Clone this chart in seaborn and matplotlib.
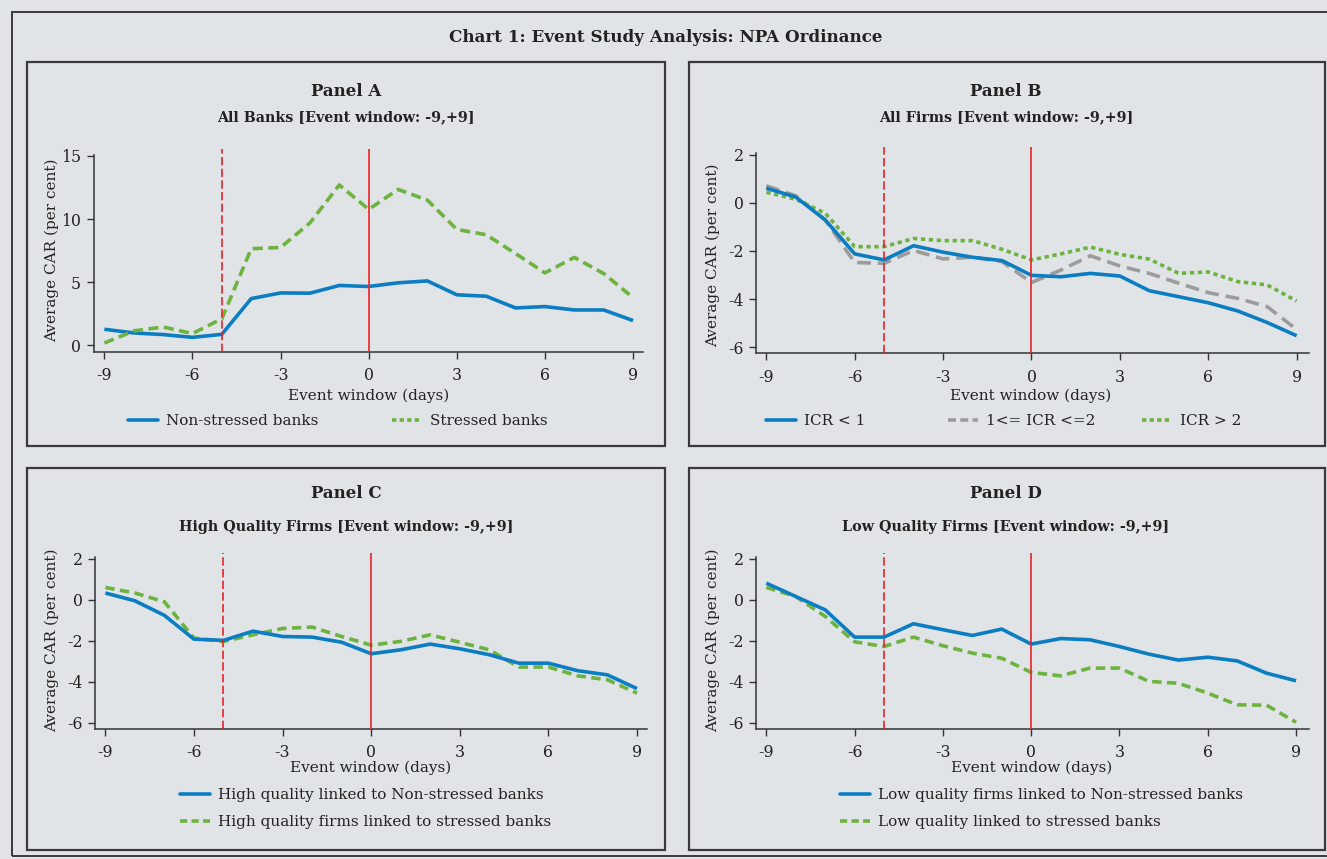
import numpy as np
import pandas as pd
import seaborn as sns
import matplotlib.pyplot as plt
from matplotlib.patches import Rectangle
from matplotlib.lines import Line2D

# ---------------- data ----------------
days = list(range(-9, 10))

a_nonstressed = [1.27, 0.98, 0.85, 0.63, 0.87, 3.70, 4.15, 4.13, 4.74, 4.66,
                 4.95, 5.10, 4.00, 3.89, 2.96, 3.07, 2.80, 2.80, 1.96]
a_stressed = [0.18, 1.14, 1.45, 0.93, 2.10, 7.65, 7.75, 9.70, 12.70, 10.77,
              12.35, 11.50, 9.18, 8.76, 7.27, 5.74, 6.96, 5.69, 3.78]

b_icr_lt1 = [0.61, 0.24, -0.71, -2.12, -2.37, -1.78, -2.05, -2.26, -2.40, -3.01,
             -3.07, -2.93, -3.04, -3.65, -3.90, -4.15, -4.49, -4.97, -5.52]
b_icr_1_2 = [0.71, 0.29, -0.71, -2.48, -2.51, -1.98, -2.33, -2.26, -2.44, -3.31,
             -2.79, -2.20, -2.62, -2.93, -3.34, -3.73, -3.97, -4.31, -5.26]
b_icr_gt2 = [0.44, 0.15, -0.43, -1.82, -1.82, -1.48, -1.57, -1.57, -1.93, -2.37,
             -2.12, -1.84, -2.14, -2.34, -2.93, -2.87, -3.27, -3.41, -4.08]

c_hq_nonstressed = [0.33, -0.05, -0.76, -1.92, -1.98, -1.53, -1.79, -1.82, -2.07, -2.63,
                    -2.44, -2.16, -2.39, -2.68, -3.09, -3.09, -3.46, -3.66, -4.33]
c_hq_stressed = [0.60, 0.33, -0.10, -1.87, -2.03, -1.71, -1.40, -1.33, -1.79, -2.21,
                 -2.03, -1.71, -2.07, -2.44, -3.28, -3.28, -3.71, -3.90, -4.55]

d_lq_nonstressed = [0.81, 0.16, -0.49, -1.82, -1.82, -1.17, -1.46, -1.74, -1.43, -2.16,
                    -1.89, -1.95, -2.28, -2.65, -2.94, -2.80, -2.98, -3.58, -3.95]
d_lq_stressed = [0.60, 0.16, -0.81, -2.05, -2.28, -1.82, -2.24, -2.60, -2.85, -3.54,
                 -3.71, -3.33, -3.33, -3.98, -4.07, -4.55, -5.12, -5.14, -5.97]

x_ticks = [-9, -6, -3, 0, 3, 6, 9]
a_yticks = [0, 5, 10, 15]
bcd_yticks = [-6, -4, -2, 0, 2]
event_lines = [-5, 0]

chart_title = "Chart 1: Event Study Analysis: NPA Ordinance"
panel_titles = ["Panel A", "Panel B", "Panel C", "Panel D"]
panel_subtitles = ["All Banks [Event window: -9,+9]",
                   "All Firms [Event window: -9,+9]",
                   "High Quality Firms [Event window: -9,+9]",
                   "Low Quality Firms [Event window: -9,+9]"]
a_labels = ["Non-stressed banks", "Stressed banks"]
b_labels = ["ICR < 1", "1<= ICR <=2", "ICR > 2"]
c_labels = ["High quality linked to Non-stressed banks",
            "High quality firms linked to stressed banks"]
d_labels = ["Low quality firms linked to Non-stressed banks",
            "Low quality linked to stressed banks"]

# ---------------- style ----------------
W, H = 1327, 859
BG = "#e1e4e7"
BLUE = "#0b7dc2"
GREEN = "#6cb33f"
GRAY = "#9c9c9c"
RED = "#e8232a"
FRAME = "#3a3a3a"
LW = 2.6

sns.set_theme(style="white")
plt.rcParams["font.family"] = ["DejaVu Serif"]
plt.rcParams["text.color"] = "#222222"

fig = plt.figure(figsize=(W / 100, H / 100), dpi=100, facecolor=BG)


def fx(px):
    return px / W


def fy(py):
    return 1 - py / H


def box(l, t, r, b, lw=1.6):
    fig.patches.append(Rectangle((fx(l), fy(b)), fx(r - l), (b - t) / H,
                                 transform=fig.transFigure, fill=False,
                                 edgecolor=FRAME, lw=lw, zorder=0))


# outer frame and panel boxes
box(12, 12, 1340, 856, lw=1.4)
box(27, 62, 665, 446)
box(689, 62, 1325, 446)
box(27, 468, 665, 850)
box(689, 468, 1325, 850)

fig.text(fx(666), fy(38), chart_title, ha="center", va="center",
         fontsize=12.1, fontweight="bold")


def make_axes(l, t, r, b, xlim, ylim, yticks, ytop):
    ax = fig.add_axes([fx(l), fy(b), fx(r - l), (b - t) / H])
    ax.set_facecolor(BG)
    ax.set_xlim(*xlim)
    ax.set_ylim(*ylim)
    for s in ["top", "right"]:
        ax.spines[s].set_visible(False)
    for s in ["left", "bottom"]:
        ax.spines[s].set_color("#333333")
        ax.spines[s].set_linewidth(1.1)
    ax.spines["left"].set_bounds(ylim[0], ytop)
    ax.set_xticks(x_ticks)
    ax.set_xticklabels([str(v) for v in x_ticks])
    ax.set_yticks(yticks)
    ax.set_yticklabels([str(v) for v in yticks])
    ax.tick_params(axis="both", direction="out", length=5, width=1,
                   color="#333333", labelsize=11.3, labelcolor="#222222", pad=4,
                   bottom=True, left=True)
    ax.tick_params(axis="x", pad=6)
    ax.grid(False)
    for v in event_lines:
        ax.axvline(v, color=RED, lw=1.2, zorder=4,
                   linestyle=(0, (5, 2)) if v != 0 else "-")
    return ax


def draw(ax, vals, color, dashes=None):
    sns.lineplot(x=days, y=vals, ax=ax, color=color, lw=LW, legend=False)
    ln = ax.lines[-1]
    ln.set_solid_capstyle("butt")
    if dashes is not None:
        ln.set_dashes(dashes)
        ln.set_dash_capstyle("butt")
    return ln


def labels(ax, xc, ylab_x, ylab_y, xlab_y):
    fig.text(fx(ylab_x), fy(ylab_y), "Average CAR (per cent)", rotation=90,
             ha="center", va="center", fontsize=11)
    fig.text(fx(xc), fy(xlab_y), "Event window (days)", ha="center",
             va="center", fontsize=11)


def titles(xc, ty, sy, i):
    fig.text(fx(xc), fy(ty), panel_titles[i], ha="center", va="center",
             fontsize=12, fontweight="bold")
    fig.text(fx(xc), fy(sy), panel_subtitles[i], ha="center", va="center",
             fontsize=10.3, fontweight="bold")


def legend_entry(x, y, color, dashes, text, hl=1.95):
    h = Line2D([0], [0], color=color, lw=LW)
    if dashes is not None:
        h.set_dashes(dashes)
    fig.legend([h], [text], loc="center left",
               bbox_to_anchor=(fx(x), fy(y)), bbox_transform=fig.transFigure,
               frameon=False, borderpad=0, borderaxespad=0, handlelength=hl,
               handletextpad=0.55, fontsize=11)


DASH_A = (2.8, 1.5)
DASH_C = (2.6, 1.5)
DOT_B = (1.2, 1.0)
DASH_B = (3.8, 1.9)

# ---------------- Panel A ----------------
axA = make_axes(93.5, 149, 643, 352, (-9.37, 9.34), (-0.53, 15.55), a_yticks, 15.1)
draw(axA, a_nonstressed, BLUE)
draw(axA, a_stressed, GREEN, DASH_A)
titles(346, 92, 117, 0)
labels(axA, 369, 52, 250, 396)
legend_entry(128, 421, BLUE, None, a_labels[0])
legend_entry(392, 421, GREEN, (1.2, 0.9), a_labels[1])

# ---------------- Panel B ----------------
axB = make_axes(756.3, 147, 1309, 353.3, (-9.34, 9.42), (-6.25, 2.32), bcd_yticks, 2.08)
draw(axB, b_icr_1_2, GRAY, DASH_B)
draw(axB, b_icr_gt2, GREEN, DOT_B)
draw(axB, b_icr_lt1, BLUE)
titles(1006, 92, 117, 1)
labels(axB, 1031, 713, 255, 396)
legend_entry(766, 421, BLUE, None, b_labels[0])
legend_entry(948, 421, GRAY, (2.2, 1.2), b_labels[1])
legend_entry(1142, 421, GREEN, (1.2, 0.9), b_labels[2])

# ---------------- Panel C ----------------
axC = make_axes(95.3, 553, 647, 729, (-9.34, 9.34), (-6.3, 2.28), bcd_yticks, 2.08)
draw(axC, c_hq_stressed, GREEN, DASH_C)
draw(axC, c_hq_nonstressed, BLUE)
titles(346, 494, 527, 2)
labels(axC, 371, 52, 640, 768)
legend_entry(180, 795, BLUE, None, c_labels[0])
legend_entry(180, 822, GREEN, (2.0, 1.2), c_labels[1])

# ---------------- Panel D ----------------
axD = make_axes(756.3, 553, 1309, 729, (-9.34, 9.44), (-6.3, 2.28), bcd_yticks, 2.08)
draw(axD, d_lq_stressed, GREEN, DASH_C)
draw(axD, d_lq_nonstressed, BLUE)
titles(1006, 494, 527, 3)
labels(axD, 1032, 713, 640, 768)
legend_entry(840, 795, BLUE, None, d_labels[0])
legend_entry(840, 822, GREEN, (2.0, 1.2), d_labels[1])

fig.savefig("out.png", dpi=100, facecolor=BG)
